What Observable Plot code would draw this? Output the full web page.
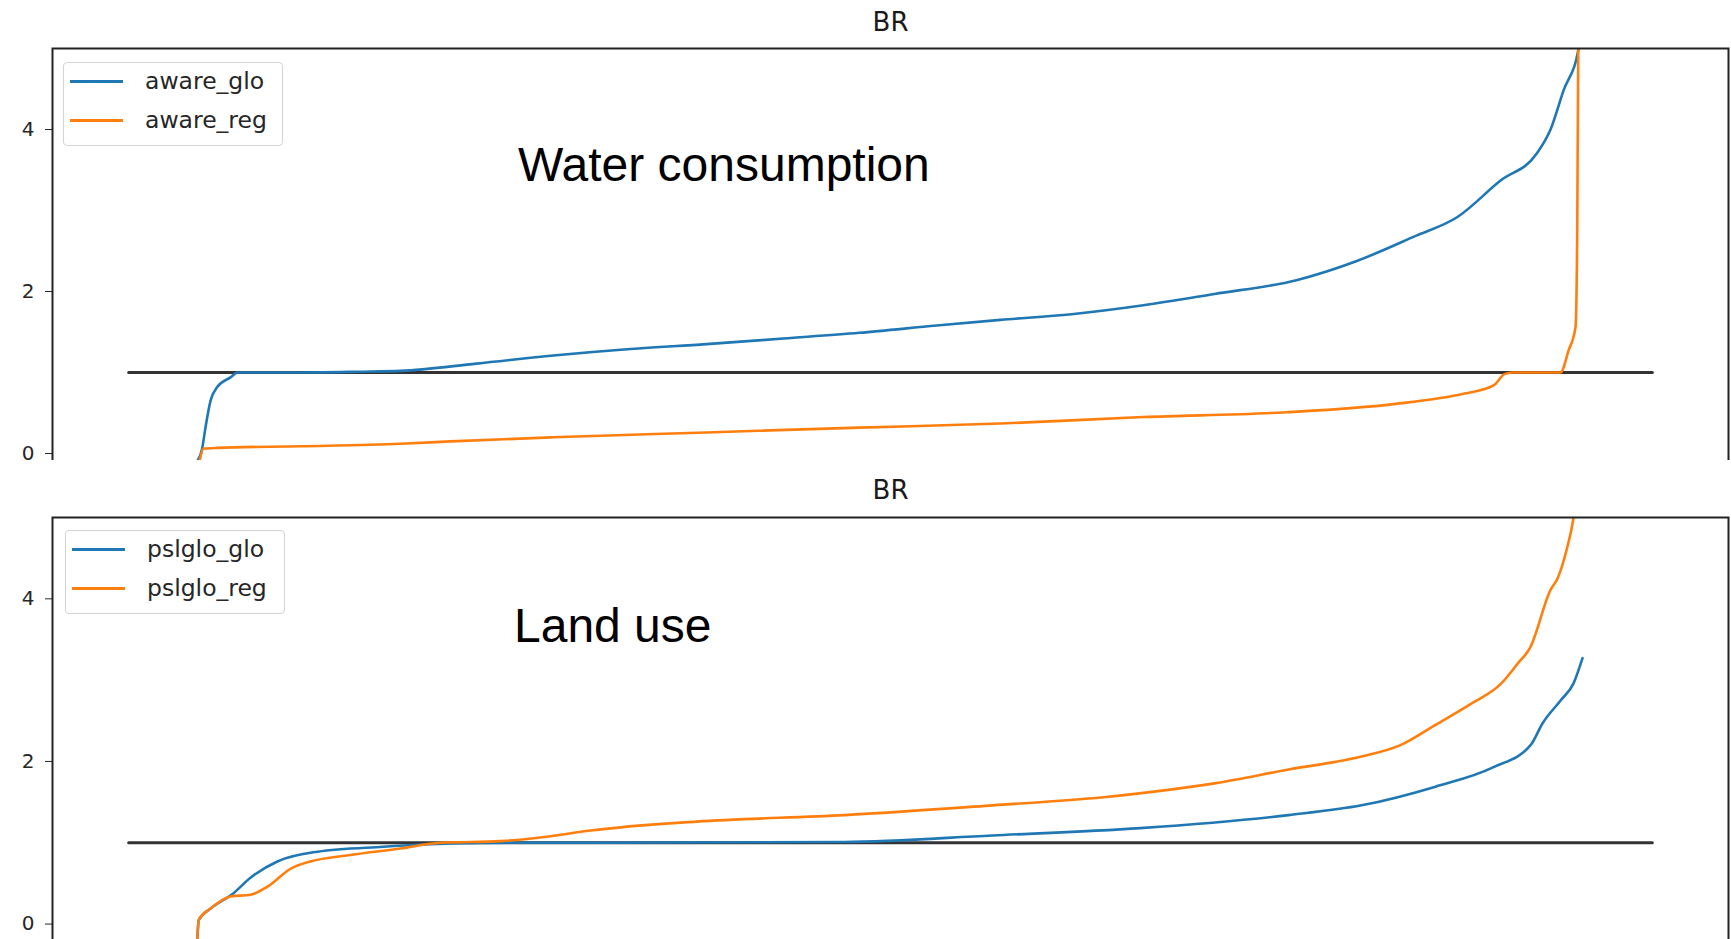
<!DOCTYPE html>
<html>
<head>
<meta charset="utf-8">
<script src="https://cdn.jsdelivr.net/npm/d3@7"></script>
<script src="https://cdn.jsdelivr.net/npm/@observablehq/plot@0.6"></script>
<style>
  html, body { margin: 0; padding: 0; background: #fff; }
  body { width: 1731px; height: 939px; overflow: hidden; position: relative; font-family: "DejaVu Sans", sans-serif; }
  .panel { position: absolute; left: 0; width: 1731px; overflow: hidden; }
  .legend { position: absolute; background: rgba(255,255,255,0.8); border: 1px solid #d4d4d4; border-radius: 4px; box-sizing: border-box; font-family: "DejaVu Sans", sans-serif; font-size: 23.5px; color: #262626; }
  .legend .sw { position: absolute; height: 3px; width: 53px; }
  .legend .lb { position: absolute; line-height: 1; white-space: nowrap; }
  .annot { position: absolute; font-family: "Liberation Sans", Arial, sans-serif; font-size: 48px; line-height: 1; color: #000; white-space: nowrap; }
</style>
</head>
<body>
<script>
// ---------- data ----------
const seriesColors = ["#1f77b4", "#ff7f0e"];
const yTicks = [0, 2, 4];
const refLineRank = [0, 100];
const refLineValue = [1, 1];

// Panel 1: water consumption (BR)
const awareGloRank = [4.48, 4.82, 5.04, 5.37, 5.81, 6.68, 7.14, 11.28, 15.21, 17.84, 22.83, 27.88, 32.94, 37.92, 42.97, 47.96, 53.02, 57.22, 61.88, 66.60, 71.26, 76.64, 80.65, 84.39, 87.21, 90.04, 92.40, 93.32, 94.17, 95.16, 95.29];
const awareGlo     = [-0.1, 0.06, 0.32, 0.65, 0.82, 0.94, 1.0, 1.0, 1.01, 1.02, 1.11, 1.21, 1.29, 1.35, 1.42, 1.49, 1.58, 1.65, 1.72, 1.83, 1.97, 2.14, 2.38, 2.68, 2.92, 3.37, 3.70, 4.0, 4.48, 5.0, 5.2];
const awareRegRank = [4.65, 4.91, 5.83, 11.28, 17.84, 21.12, 27.88, 37.92, 47.96, 57.22, 66.60, 75.99, 83.01, 87.67, 89.58, 90.30, 90.82, 93.97, 94.50, 94.96, 95.07, 95.14, 95.19];
const awareReg     = [-0.1, 0.06, 0.07, 0.09, 0.12, 0.15, 0.20, 0.26, 0.32, 0.37, 0.45, 0.51, 0.61, 0.74, 0.84, 0.98, 1.0, 1.0, 1.27, 1.56, 2.7, 5.0, 5.5];

// Panel 2: land use (BR)
const pslgloGloRank = [4.50, 4.60, 5.37, 6.88, 7.99, 9.76, 12.39, 16.72, 21.12, 25.51, 30.96, 46.97, 56.69, 66.40, 76.12, 80.91, 85.77, 89.58, 92.01, 92.80, 93.98, 94.83, 95.42];
const pslgloGlo     = [-0.2, 0.05, 0.19, 0.38, 0.57, 0.77, 0.89, 0.95, 0.99, 1.0, 1.0, 1.01, 1.09, 1.18, 1.34, 1.46, 1.69, 1.93, 2.2, 2.47, 2.75, 2.96, 3.27];
const pslgloRegRank = [4.50, 4.60, 5.37, 6.68, 7.99, 9.11, 10.62, 11.93, 14.55, 17.84, 20.46, 24.40, 27.68, 30.30, 37.26, 46.97, 56.69, 63.97, 71.26, 76.12, 80.91, 83.47, 85.77, 88.20, 90.04, 91.15, 92.01, 93.32, 93.78, 94.37, 94.83, 95.03];
const pslgloReg     = [-0.2, 0.05, 0.19, 0.34, 0.36, 0.46, 0.68, 0.77, 0.85, 0.93, 1.0, 1.02, 1.08, 1.15, 1.26, 1.34, 1.46, 1.56, 1.73, 1.90, 2.06, 2.2, 2.45, 2.72, 2.95, 3.2, 3.41, 4.11, 4.25, 4.6, 5.0, 5.3];

// ---------- helpers ----------
function toRows(name, xs, ys) { return xs.map((x, i) => ({series: name, x, y: ys[i]})); }

function makePanel(cfg) {
  const div = document.createElement("div");
  div.className = "panel";
  div.style.top = cfg.top + "px";
  div.style.height = cfg.visibleHeight + "px";
  const rows = cfg.series.flatMap(s => toRows(s.name, s.xs, s.ys));
  const ref = refLineRank.map((x, i) => ({x, y: refLineValue[i]}));
  const chart = Plot.plot({
    width: 1731,
    height: cfg.svgHeight,
    marginTop: cfg.marginTop,
    marginLeft: 52,
    marginRight: 3,
    marginBottom: 0,
    x: {domain: [-5, 105], axis: null},
    y: {domain: cfg.yDomain, ticks: yTicks, tickFormat: d => String(d), tickSize: 7, tickPadding: 11, label: null},
    color: {domain: cfg.series.map(s => s.name), range: seriesColors},
    style: {fontFamily: "DejaVu Sans", fontSize: "20px", color: "#262626", background: "white", overflow: "visible"},
    marks: [
      Plot.line(ref, {x: "x", y: "y", stroke: "#333", strokeWidth: 3}),
      Plot.line(rows, {x: "x", y: "y", z: "series", stroke: "series", strokeWidth: 2.6, curve: "monotone-x", clip: true}),
      Plot.frame({stroke: "#222", strokeWidth: 2}),
      Plot.text([cfg.title], {text: d => d, frameAnchor: "top", dy: cfg.titleDy, fontSize: 26, fill: "#1a1a1a"})
    ]
  });
  div.appendChild(chart);
  document.body.appendChild(div);

  // legend
  const lg = document.createElement("div");
  lg.className = "legend";
  Object.assign(lg.style, {left: cfg.legend.left + "px", top: cfg.legend.top + "px", width: "220px", height: "84px"});
  cfg.series.forEach((s, i) => {
    const sw = document.createElement("div");
    sw.className = "sw";
    sw.style.background = seriesColors[i];
    sw.style.left = "6px";
    sw.style.top = (17 + i * 39) + "px";
    const lb = document.createElement("div");
    lb.className = "lb";
    lb.textContent = s.name;
    lb.style.left = "81px";
    lb.style.top = (7 + i * 39) + "px";
    lg.appendChild(sw);
    lg.appendChild(lb);
  });
  document.body.appendChild(lg);

  const an = document.createElement("div");
  an.className = "annot";
  an.textContent = cfg.annotation.text;
  an.style.left = cfg.annotation.left + "px";
  an.style.top = cfg.annotation.top + "px";
  document.body.appendChild(an);
}

makePanel({
  top: 0, visibleHeight: 460, svgHeight: 500, marginTop: 48,
  yDomain: [-0.58, 5], title: "BR", titleDy: -36,
  series: [
    {name: "aware_glo", xs: awareGloRank, ys: awareGlo},
    {name: "aware_reg", xs: awareRegRank, ys: awareReg}
  ],
  legend: {left: 63, top: 62},
  annotation: {text: "Water consumption", left: 518, top: 141}
});

makePanel({
  top: 460, visibleHeight: 479, svgHeight: 540, marginTop: 57,
  yDomain: [-0.94, 5], title: "BR", titleDy: -37,
  series: [
    {name: "pslglo_glo", xs: pslgloGloRank, ys: pslgloGlo},
    {name: "pslglo_reg", xs: pslgloRegRank, ys: pslgloReg}
  ],
  legend: {left: 65, top: 530},
  annotation: {text: "Land use", left: 514, top: 602}
});
</script>
</body>
</html>
